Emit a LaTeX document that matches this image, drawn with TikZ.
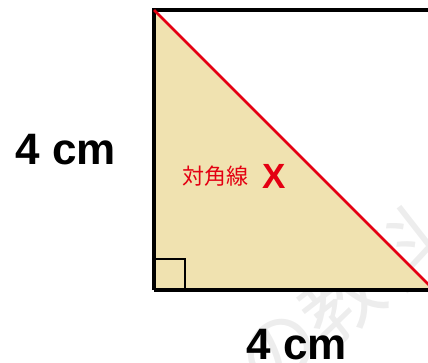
\documentclass[tikz,border=0pt]{standalone}
\usepackage{fontspec}
\setmainfont{Liberation Sans}
\newfontfamily\jpfont{Noto Sans CJK JP}
\definecolor{sqbeige}{RGB}{240,226,176}
\definecolor{sqred}{RGB}{228,0,18}
\usetikzlibrary{positioning,calc}

\begin{document}
\begin{tikzpicture}[x=1pt, y=1pt,
  edge/.style={draw=black, line width=3.6pt},
  diag/.style={draw=sqred, line width=2.6pt},
  rmark/.style={draw=black, line width=1.1pt},
  dimlbl/.style={font=\fontsize{44}{48}\selectfont\bfseries, text=black, inner sep=0pt},
  difflbl/.style={font=\jpfont\fontsize{22}{26}\selectfont, text=sqred, inner sep=0pt}
]
\useasboundingbox (0,0) rectangle (428,362);
\clip (0,0) rectangle (428,362);

% Watermark
\node[font=\jpfont\fontsize{80}{82}\selectfont, text=black!7, rotate=38] (wm) at (340,62) {の教科};

% Square corners
\coordinate (tl) at (154,352);
\coordinate (bl) at (154,72);
\coordinate (br) at (434,72);
\coordinate (tr) at (434,352);

% Lower triangle
\fill[sqbeige] (tl) -- (bl) -- (br) -- cycle;

% Right angle mark
\draw[rmark] ($(bl)+(0,31)$) -| ($(bl)+(31,0)$);

% Square outline and diagonal
\draw[edge] (bl) -- (tl) -- (tr);
\draw[edge] (bl) -- (br);
\draw[diag] (tl) -- (br);

% Labels
\node[dimlbl] (side) at (66,212) {4 cm};
\node[dimlbl] (base) at (297,17) {4 cm};
\node[difflbl] (dname) at (215,186) {対角線};
\node[font=\fontsize{35}{38}\selectfont\bfseries, text=sqred, inner sep=0pt,
      right=14pt of dname] (dx) {X};
\end{tikzpicture}
\end{document}
